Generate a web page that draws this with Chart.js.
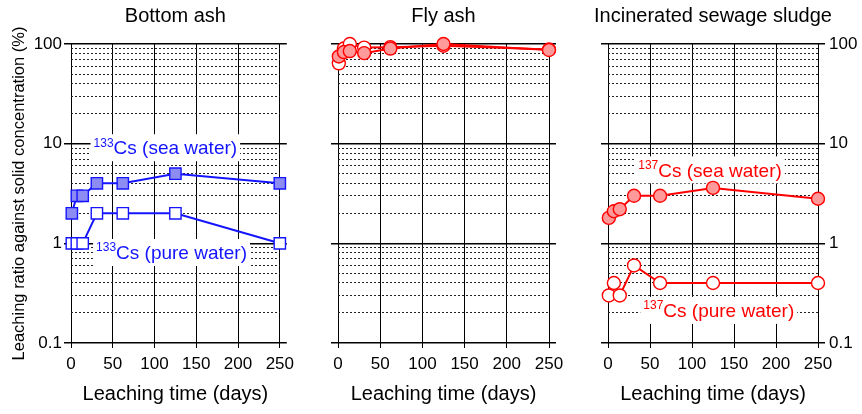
<!DOCTYPE html>
<html>
<head>
<meta charset="utf-8">
<script src="https://cdn.jsdelivr.net/npm/chart.js@4.4.1/dist/chart.umd.min.js"></script>
<style>
  body { margin: 0; background: #fff; width: 862px; height: 414px; overflow: hidden; position: relative; }
  canvas { position: absolute; top: 0; }
</style>
</head>
<body>
<canvas id="c1" width="300" height="414" style="left:0px"></canvas>
<canvas id="c2" width="280" height="414" style="left:300px"></canvas>
<canvas id="c3" width="298" height="414" style="left:564px"></canvas>
<script>
// leaching time (days)
const days = [1, 7, 14, 31, 62, 125, 250];
const xTicks = [0, 50, 100, 150, 200, 250];
const yDecades = [0.1, 1, 10, 100];
const yMinor = yDecades.slice(0, -1).flatMap(d => [2, 3, 4, 5, 6, 7, 8, 9].map(m => +(m * d).toPrecision(2)));

// leaching ratio (%)
const bottomSea = [2, 3, 3, 4, 4, 5, 4];
const bottomPure = [1, 1, 1, 2, 2, 2, 1];
const flySea = [75, 83, 85, 81, 90, 100, 87];
const flyPure = [64, 90, 100, 92, 93, 96, 88];
const sludgeSea = [1.8, 2.1, 2.2, 3.0, 3.0, 3.6, 2.8];
const sludgePure = [0.3, 0.4, 0.3, 0.6, 0.4, 0.4, 0.4];

const FONT = '"Liberation Sans", Arial, sans-serif';
Chart.defaults.font.family = FONT;
Chart.defaults.color = '#000';

const BLUE = '#1414ff';
const RED = '#ff0000';

const pts = arr => days.map((d, i) => ({ x: d, y: arr[i] }));

function series(arr, color, fill, shape) {
  return {
    data: pts(arr),
    borderColor: color,
    borderWidth: 2,
    backgroundColor: fill,
    pointBackgroundColor: fill,
    pointBorderColor: color,
    pointBorderWidth: 1.4,
    pointStyle: shape,
    pointRadius: shape === 'rect' ? 8 : 6.5,
    tension: 0,
    clip: false
  };
}

// text labels with superscript mass number, white box behind
const labelPlugin = {
  id: 'csLabels',
  beforeDatasetsDraw(chart, args, opts) {
    const { ctx, scales } = chart;
    (opts.items || []).forEach(it => {
      const px = scales.x.getPixelForValue(it.x);
      const py = scales.y.getPixelForValue(it.y);
      ctx.save();
      ctx.font = '12px ' + FONT;
      const wSup = ctx.measureText(it.sup).width;
      ctx.font = '19px ' + FONT;
      const wMain = ctx.measureText(it.text).width;
      ctx.fillStyle = '#fff';
      ctx.fillRect(px - 3, py - 14, wSup + wMain + 6, 27);
      ctx.fillStyle = it.color;
      ctx.textBaseline = 'middle';
      ctx.textAlign = 'left';
      ctx.fillText(it.text, px + wSup, py + 1);
      ctx.font = '12px ' + FONT;
      ctx.fillText(it.sup, px, py - 5);
      ctx.restore();
    });
  }
};

function majorAxis(pos, width, labels, title) {
  return {
    type: 'logarithmic', position: pos, min: 0.1, max: 100,
    afterBuildTicks: s => { s.ticks = yDecades.map(v => ({ value: v })); },
    afterFit: s => { s.width = width; },
    border: { display: false },
    grid: { drawOnChartArea: pos === 'left', color: '#000', lineWidth: 1.5, tickLength: 7, tickColor: '#000', tickWidth: 1.5 },
    ticks: { display: labels, autoSkip: false, padding: pos === 'left' ? 2 : 4, font: { size: 17 }, callback: v => String(v) },
    title: title ? { display: true, text: title, font: { size: 16.5 }, padding: { top: 10, bottom: 0 } } : { display: false }
  };
}

function makeChart(id, title, datasets, o) {
  return new Chart(document.getElementById(id), {
    type: 'line',
    data: { datasets },
    options: {
      responsive: false,
      animation: false,
      layout: { padding: 0 },
      plugins: {
        legend: { display: false },
        tooltip: { enabled: false },
        title: { display: true, text: title, fullSize: !!o.fullTitle, font: { size: 20, weight: 'normal' }, padding: { top: 4, bottom: 16 } },
        csLabels: { items: o.labels || [] }
      },
      scales: {
        x: {
          type: 'linear', min: 0, max: 250,
          afterBuildTicks: s => { s.ticks = xTicks.map(v => ({ value: v })); },
          afterFit: s => { s.height = 71; },
          border: { display: false },
          grid: { color: '#000', lineWidth: 1, tickLength: 5 },
          ticks: { padding: 6, font: { size: 17 } },
          title: { display: true, text: 'Leaching time (days)', font: { size: 20 }, padding: { top: 0, bottom: 8 } }
        },
        y: majorAxis('left', o.left, o.labelSide === 'left', o.yTitle),
        yMinor: {
          type: 'logarithmic', position: 'left', min: 0.1, max: 100,
          afterBuildTicks: s => { s.ticks = yMinor.map(v => ({ value: v })); },
          afterFit: s => { s.width = 0; },
          border: { display: false, dash: [2, 2] },
          grid: { color: '#222', lineWidth: 1, drawTicks: false },
          ticks: { display: false }
        },
        yRight: majorAxis('right', o.right, o.labelSide === 'right')
      }
    },
    plugins: [labelPlugin]
  });
}

// dataset 0 is drawn on top
makeChart('c1', 'Bottom ash', [
  series(bottomSea, BLUE, '#8c8cf2', 'rect'),
  series(bottomPure, BLUE, '#ffffff', 'rect')
], {
  left: 71, right: 17, labelSide: 'left',
  yTitle: 'Leaching ratio against solid concentration (%)',
  labels: [
    { sup: '133', text: 'Cs (sea water)', x: 27, y: 9, color: BLUE },
    { sup: '133', text: 'Cs (pure water)', x: 30, y: 0.8, color: BLUE }
  ]
});

makeChart('c2', 'Fly ash', [
  series(flySea, RED, '#ff9a9a', 'circle'),
  series(flyPure, RED, '#ffffff', 'circle')
], { left: 38, right: 31, labelSide: 'none' });

makeChart('c3', 'Incinerated sewage sludge', [
  series(sludgeSea, RED, '#ff9a9a', 'circle'),
  series(sludgePure, RED, '#ffffff', 'circle')
], {
  left: 44, right: 44, labelSide: 'right', fullTitle: true,
  labels: [
    { sup: '137', text: 'Cs (sea water)', x: 36, y: 5.4, color: RED },
    { sup: '137', text: 'Cs (pure water)', x: 42, y: 0.21, color: RED }
  ]
});
</script>
</body>
</html>
